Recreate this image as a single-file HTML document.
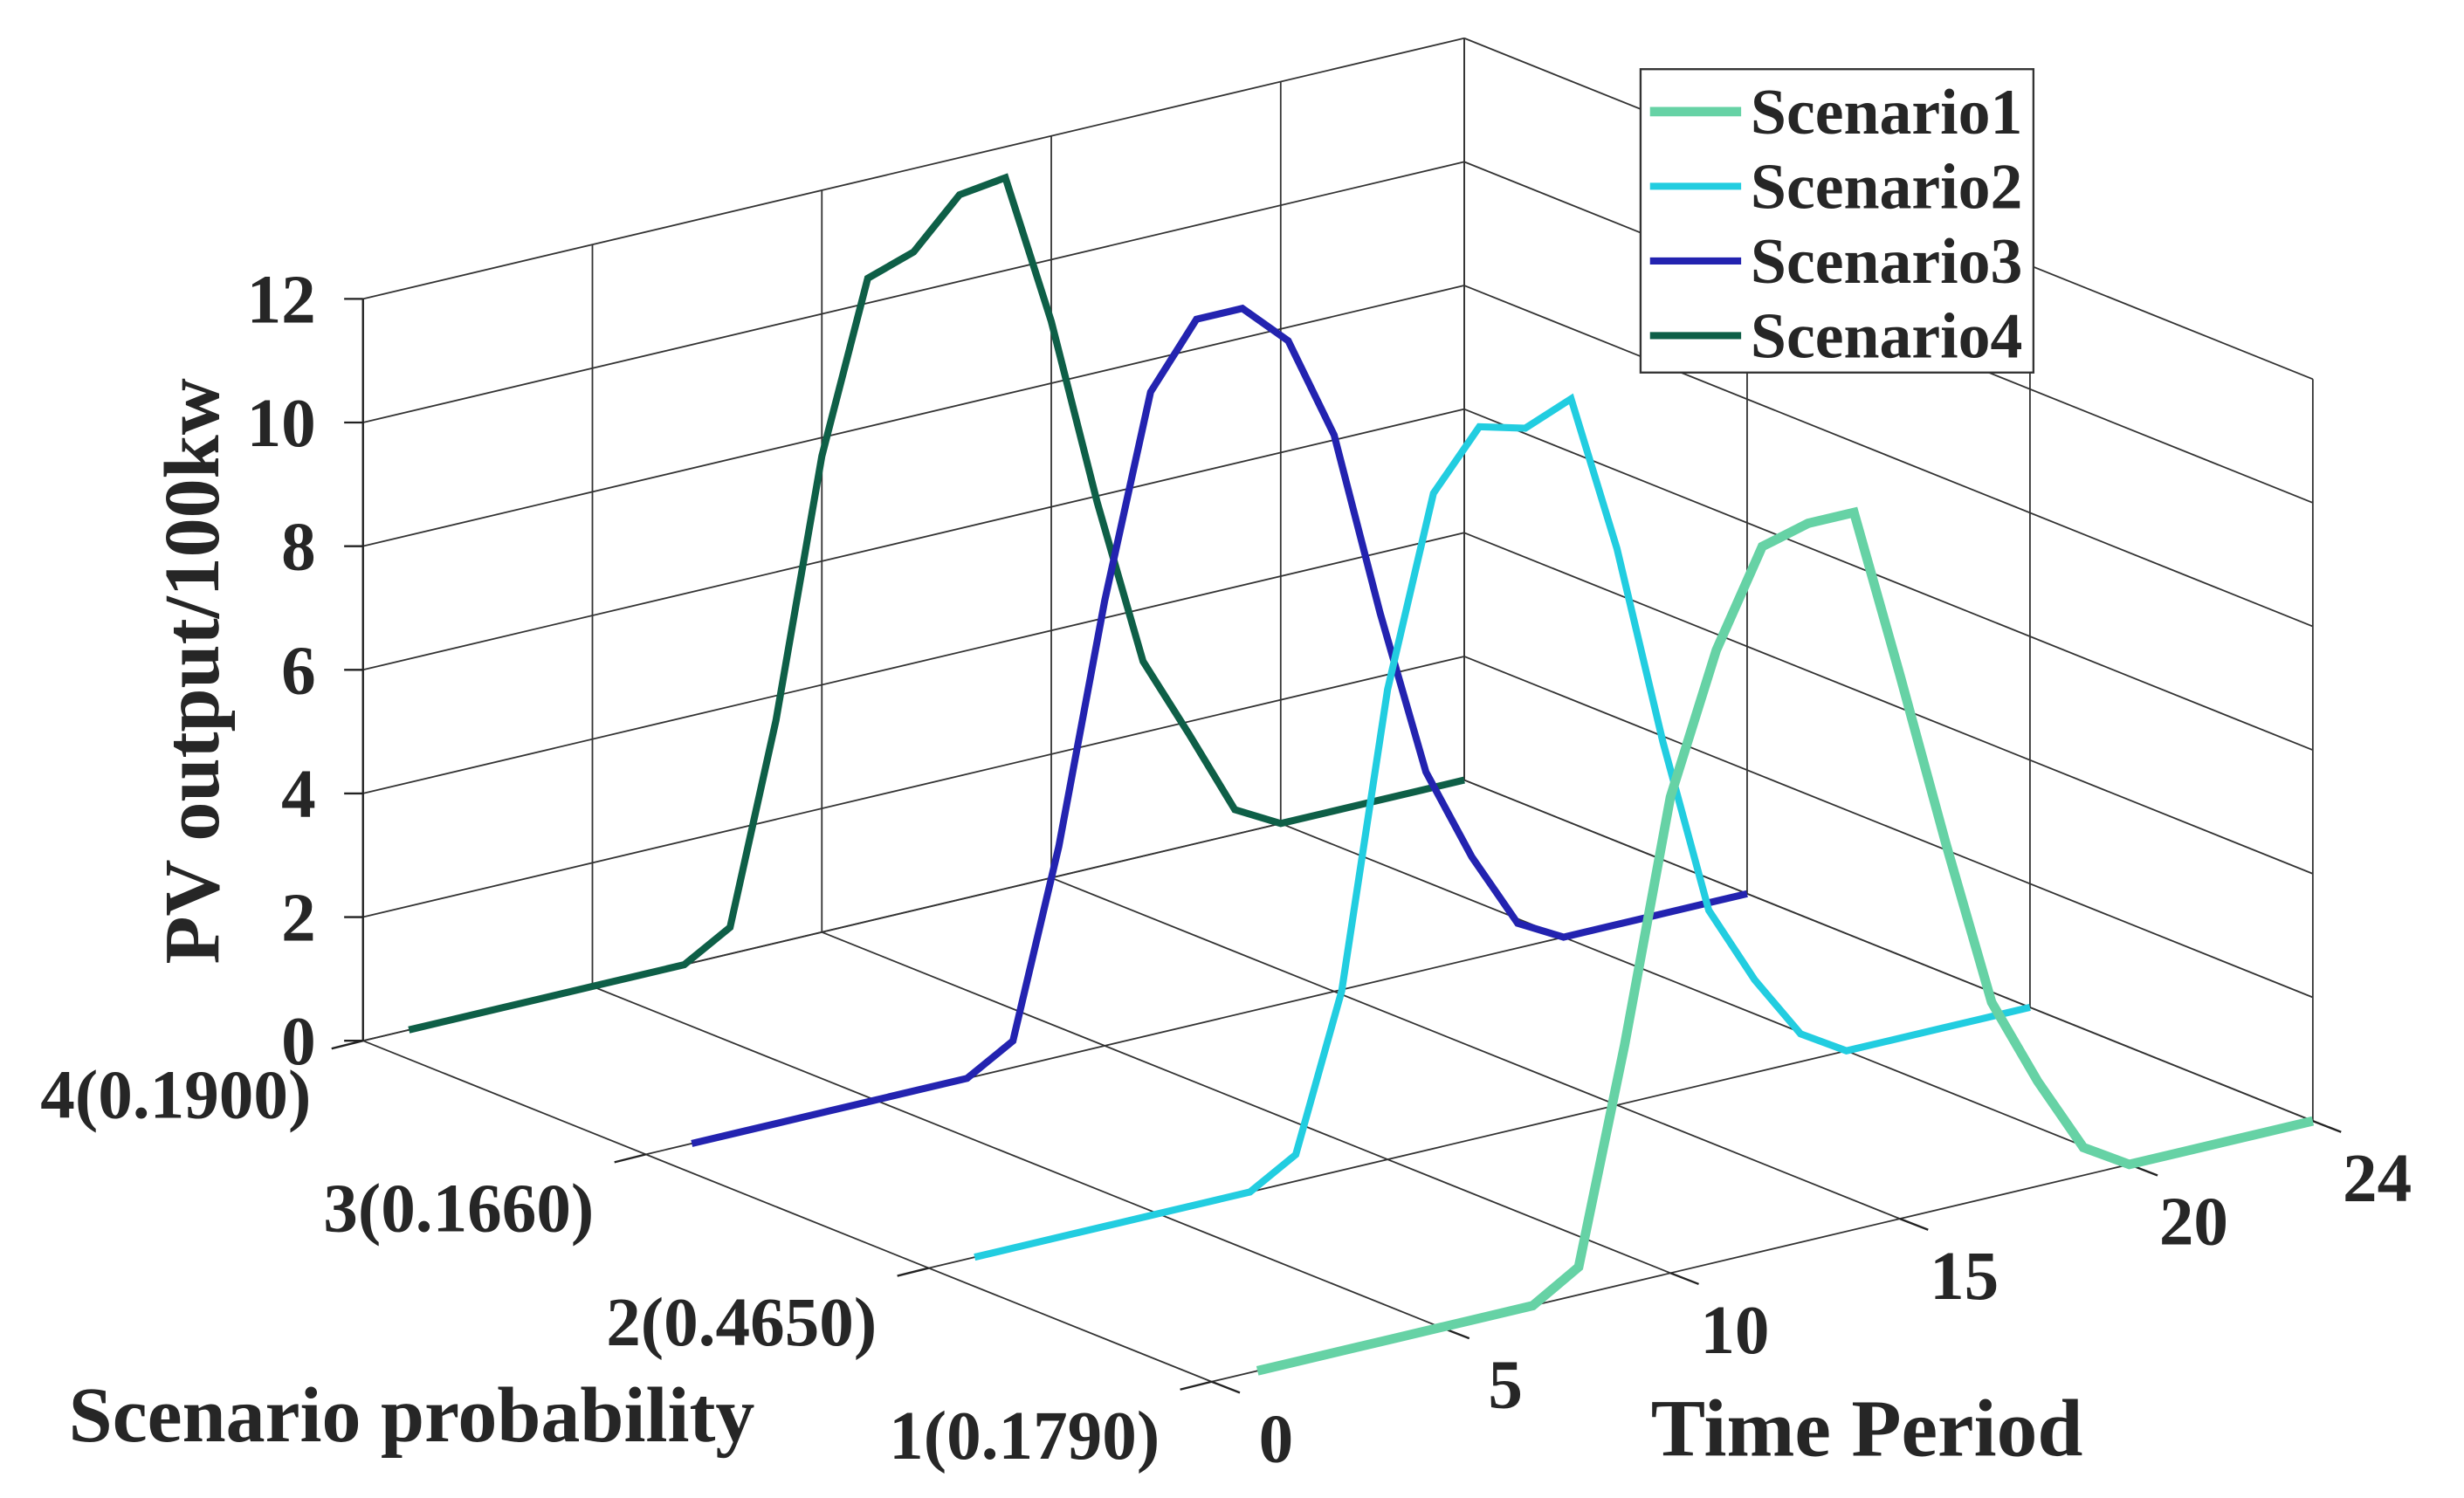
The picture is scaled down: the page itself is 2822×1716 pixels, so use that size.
<!DOCTYPE html>
<html><head><meta charset="utf-8"><style>
html,body{margin:0;padding:0;background:#fff;}
svg{display:block;}
text{font-family:"Liberation Serif",serif;font-weight:bold;fill:#262626;}
</style></head><body>
<svg id="chart" width="2822" height="1716" viewBox="0 0 1568 953" preserveAspectRatio="none" xmlns="http://www.w3.org/2000/svg">
<g id="grid"></g>
<g id="lines"></g>
<g id="labels"></g>
</svg>
<script>
const timePeriods = [1,2,3,4,5,6,7,8,9,10,11,12,13,14,15,16,17,18,19,20,21,22,23,24];
const scenario1 = [0,0,0,0,0,0,0,0.45,3.86,7.7,9.9,11.4,11.6,11.6,8.8,5.9,3.15,1.7,0.45,0,0,0,0,0];
const scenario2 = [0,0,0,0,0,0,0,0.43,2.9,7.6,10.6,11.5,11.3,11.6,9.0,5.7,2.8,1.5,0.45,0,0,0,0,0];
const scenario3 = [0,0,0,0,0,0,0,0.43,3.4,7.2,10.4,11.4,11.4,10.7,9.0,5.95,3.2,1.65,0.4,0,0,0,0,0];
const scenario4 = [0,0,0,0,0,0,0,0.43,3.6,7.7,10.4,10.65,11.4,11.5,9.0,5.9,3.15,1.8,0.4,0,0,0,0,0];
const seriesNames = ["Scenario1","Scenario2","Scenario3","Scenario4"];
const scenarioIndex = [1,2,3,4];
const scenarioTickLabels = ["1(0.1790)","2(0.4650)","3(0.1660)","4(0.1900)"];
const timeTicks = [0,5,10,15,20,24];
const zTicks = [0,2,4,6,8,10,12];

const NS="http://www.w3.org/2000/svg";
const O=[771,879], TV=[29.2,-6.91], SV=[-180,-72.3], ZV=39.33;
function P(t,s,z){return [O[0]+t*TV[0]+(s-1)*SV[0], O[1]+t*TV[1]+(s-1)*SV[1]-z*ZV];}
function line(g,a,b,stroke,w,name){
  const l=document.createElementNS(NS,'line');
  l.setAttribute('x1',a[0]);l.setAttribute('y1',a[1]);l.setAttribute('x2',b[0]);l.setAttribute('y2',b[1]);
  l.setAttribute('stroke',stroke);l.setAttribute('stroke-width',w);
  
  
  g.appendChild(l);return l;
}
function text(g,x,y,str,size,anchor,name){
  const t=document.createElementNS(NS,'text');
  t.setAttribute('x',x);t.setAttribute('y',y);t.setAttribute('font-size',size);
  t.setAttribute('text-anchor',anchor||'start');t.textContent=str;
  
  
  g.appendChild(t);return t;
}
const grid=document.getElementById('grid');
const gc='#333', gw=1;
zTicks.forEach(z=>{line(grid,P(0,4,z),P(24,4,z),gc,gw,'back-wall-gridline');line(grid,P(24,4,z),P(24,1,z),gc,gw,'side-wall-gridline');});
timeTicks.forEach(t=>{line(grid,P(t,4,0),P(t,4,12),gc,gw,'back-wall-time-gridline');line(grid,P(t,1,0),P(t,4,0),gc,gw,'floor-time-gridline');});
scenarioIndex.forEach(s=>{line(grid,P(24,s,0),P(24,s,12),gc,gw,'side-wall-scenario-gridline');line(grid,P(0,s,0),P(24,s,0),gc,gw,'floor-scenario-gridline');});
line(grid,P(0,4,0),P(0,4,12),'#222',1.3,'z-axis-line');
zTicks.forEach(z=>{const p=P(0,4,z);line(grid,p,[p[0]-12,p[1]],'#222',1.3,'z-tick');});
scenarioIndex.forEach(s=>{const p=P(0,s,0);line(grid,p,[p[0]-20,p[1]+5],'#222',1.3,'scenario-tick');});
timeTicks.forEach(t=>{const p=P(t,1,0);line(grid,p,[p[0]+18,p[1]+7],'#222',1.3,'time-tick');});

const labels=document.getElementById('labels');
zTicks.forEach(z=>{const p=P(0,4,z);text(labels,p[0]-30,p[1]+15,String(z),44,'end','z-tick-label');});
scenarioIndex.forEach((s,i)=>{const p=P(0,s,0);text(labels,p[0]-33,p[1]+49,scenarioTickLabels[i],44,'end','scenario-tick-label');});
timeTicks.forEach(t=>{const p=P(t,1,0);text(labels,p[0]+41,p[1]+51,String(t),44,'middle','time-tick-label');});
text(labels,262,917,'Scenario probability',50,'middle','scenario-axis-title');
text(labels,1188,926,'Time Period',52,'middle','time-axis-title');
const zl=text(labels,0,0,'PV output/100kw',50,'middle','z-axis-title');
zl.setAttribute('transform','translate(139,427) rotate(-90)');

const linesG=document.getElementById('lines');
const data=[scenario1,scenario2,scenario3,scenario4];
const colors=['#66d2a5','#22cde0','#2323b0','#0e5f47'];
const widths=[6,4.5,4.5,4.5];
for(let k=3;k>=0;k--){
  const pts=timePeriods.map((t,i)=>P(t,scenarioIndex[k],data[k][i]).join(',')).join(' ');
  const pl=document.createElementNS(NS,'polyline');
  pl.setAttribute('points',pts);pl.setAttribute('fill','none');
  pl.setAttribute('stroke',colors[k]);pl.setAttribute('stroke-width',widths[k]);
  pl.setAttribute('stroke-linejoin','miter');
  
  
  linesG.appendChild(pl);
}
const lg=document.createElementNS(NS,'g');


document.getElementById('chart').appendChild(lg);
const r=document.createElementNS(NS,'rect');
r.setAttribute('x',1044);r.setAttribute('y',44);r.setAttribute('width',250);r.setAttribute('height',193);
r.setAttribute('fill','#fff');r.setAttribute('stroke','#333');r.setAttribute('stroke-width',1.3);


lg.appendChild(r);
seriesNames.forEach((n,i)=>{
  const y=71+i*47.5;
  line(lg,[1050,y],[1108,y],colors[i],widths[i],'legend-swatch');
  text(lg,1114,y+14,n,41,'start','legend-entry');
});
</script>
</body></html>
